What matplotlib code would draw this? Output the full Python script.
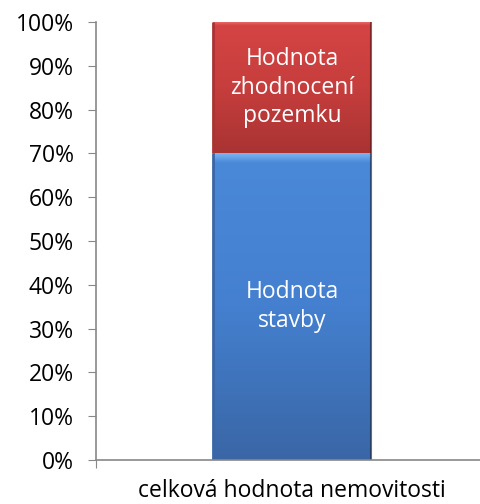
import matplotlib
matplotlib.use("Agg")
import matplotlib.pyplot as plt
import numpy as np
from matplotlib.ticker import PercentFormatter
from matplotlib.colors import LinearSegmentedColormap

categories = ["celková hodnota nemovitosti"]
series_names = ["Hodnota\nstavby", "Hodnota\nzhodnocení\npozemku"]
values_stavby = [70]
values_pozemek = [30]
yticks = [0, 10, 20, 30, 40, 50, 60, 70, 80, 90, 100]

plt.rcParams['font.family'] = ['Open Sans', 'DejaVu Sans']

fig = plt.figure(figsize=(4.81, 5.04), dpi=100)
ax = fig.add_axes([96/481, 44/504, 392/481, 438/504])

x = np.arange(len(categories))
b1 = ax.bar(x, values_stavby, width=0.403, color="#4178C4", edgecolor="none", zorder=2)
b2 = ax.bar(x, values_pozemek, bottom=values_stavby, width=0.403, color="#C93E3C", edgecolor="none", zorder=2)

grads = [
    (b1, ["#3A66A6", "#4480CF", "#4A88D8", "#7AB4F0"]),
    (b2, ["#A93333", "#C63E3D", "#D54444", "#F07070"]),
]
for bars, cols in grads:
    cmap = LinearSegmentedColormap.from_list("g", [(0, cols[0]), (0.5, cols[1]), (0.97, cols[2]), (1.0, cols[3])])
    for rect in bars:
        x0, y0, w, h = rect.get_x(), rect.get_y(), rect.get_width(), rect.get_height()
        grad = np.linspace(0, 1, 256).reshape(-1, 1)
        im = ax.imshow(grad, cmap=cmap, aspect="auto", origin="lower",
                       extent=(x0, x0 + w, y0, y0 + h), zorder=2.5)
        im.set_clip_path(rect)
        ax.plot([x0, x0], [y0, y0 + h], color=cols[0], lw=2, zorder=3, solid_capstyle="butt")
        ax.plot([x0 + w, x0 + w], [y0, y0 + h], color="#1f2f4a" if bars is b1 else "#5a1a1a",
                lw=1.5, zorder=3, alpha=0.7, solid_capstyle="butt")

for bars, bottoms, vals, name in [(b1, [0], values_stavby, series_names[0]),
                                   (b2, values_stavby, values_pozemek, series_names[1])]:
    for rect, bt, v in zip(bars, bottoms, vals):
        ax.text(rect.get_x() + rect.get_width()/2, bt + v/2, name, ha="center", va="center",
                color="white", fontsize=16.5, linespacing=1.25, zorder=5)

ax.set_xlim(-0.5, 0.5)
ax.set_ylim(0, 100)
ax.set_yticks(yticks)
ax.yaxis.set_major_formatter(PercentFormatter(decimals=0))
ax.set_xticks([-0.5])
ax.set_xticklabels([""])
ax.text(0, -0.07, categories[0], transform=ax.get_xaxis_transform(), ha="center", va="center", fontsize=16.5)
ax.tick_params(axis="y", labelsize=16.5, length=6, color="#888888", pad=10)
ax.tick_params(axis="x", length=6, color="#888888")
for s in ["top", "right"]:
    ax.spines[s].set_visible(False)
for s in ["left", "bottom"]:
    ax.spines[s].set_color("#888888")
    ax.spines[s].set_linewidth(1.2)
ax.spines["bottom"].set_zorder(4)

fig.savefig("out.png", dpi=100)
